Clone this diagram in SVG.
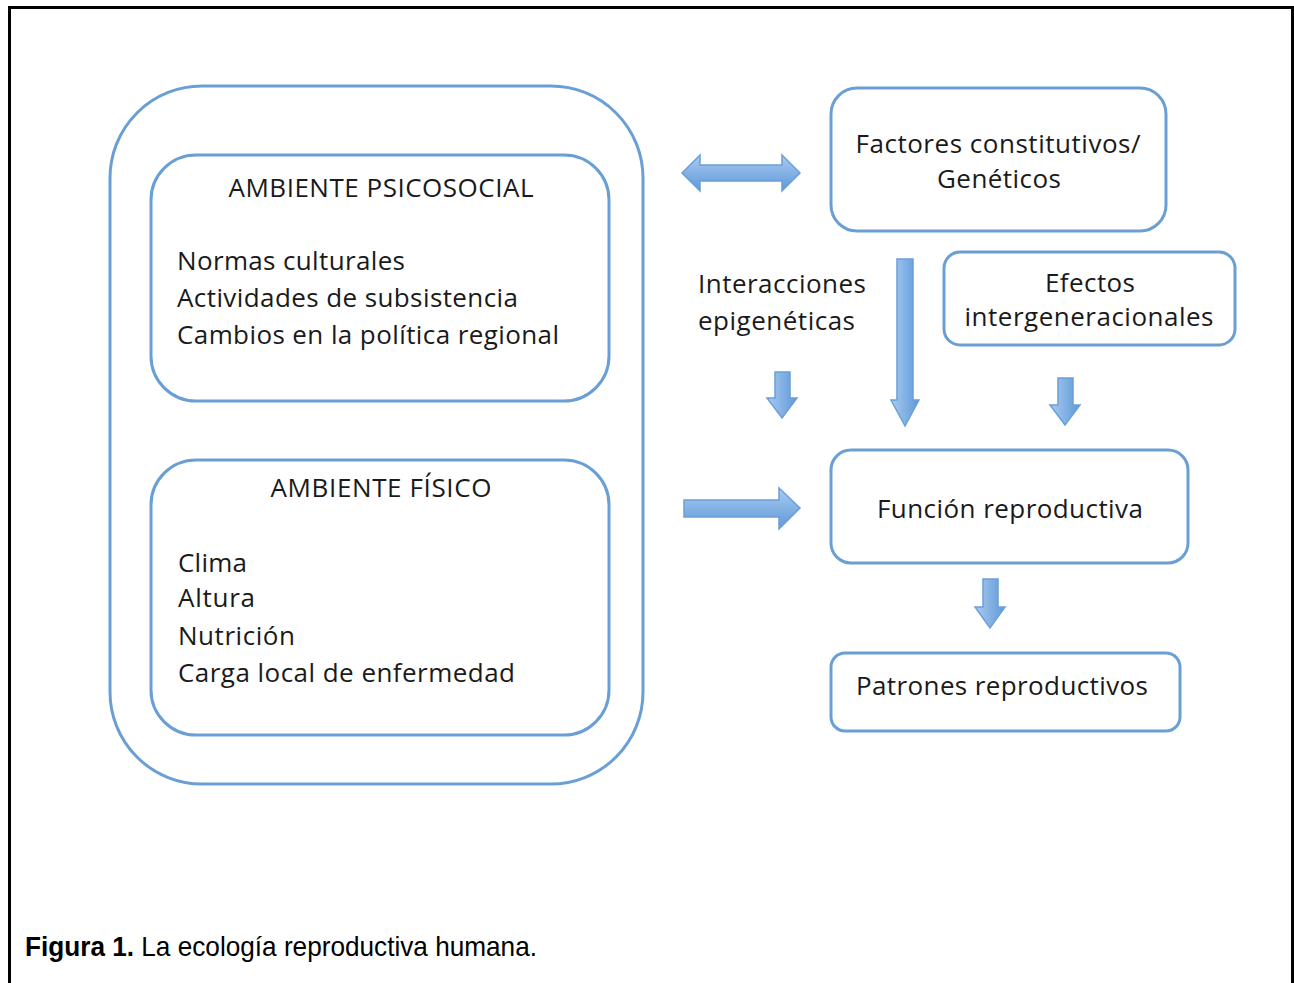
<svg xmlns="http://www.w3.org/2000/svg" width="1294" height="983" viewBox="0 0 1294 983">
<defs>
<linearGradient id="gh" x1="0" y1="0" x2="0" y2="1"><stop offset="0" stop-color="#a9cbf1"/><stop offset="1" stop-color="#5e98d8"/></linearGradient>
<linearGradient id="gd" x1="0" y1="0" x2="1" y2="0"><stop offset="0" stop-color="#a9cbf1"/><stop offset="1" stop-color="#5e98d8"/></linearGradient>
<style>
.box{fill:#fff;stroke:#6a9fd6;stroke-width:3}
.t{font-family:"Open Sans","Noto Sans",sans-serif;font-size:26px;fill:#1a1a1a}
.arr{stroke:#6b9fd8;stroke-width:1.5}
.cap{font-family:"Liberation Sans",Arial,sans-serif;font-size:28.5px;fill:#000}
</style>
</defs>
<rect width="1294" height="983" fill="#fff"/>
<path d="M9.5 990 V7.5 H1292.5 V990" fill="none" stroke="#000" stroke-width="3"/>
<g id="ambiente">
<rect class="box" x="110" y="86" width="533" height="698" rx="92"/>
</g>
<g id="psicosocial">
<rect class="box" x="151" y="155" width="458" height="246" rx="45"/>
<text class="t" x="381" y="197" text-anchor="middle" textLength="305">AMBIENTE PSICOSOCIAL</text>
<text class="t" x="177" y="270" textLength="228">Normas culturales</text>
<text class="t" x="177" y="307" textLength="341">Actividades de subsistencia</text>
<text class="t" x="177" y="344" textLength="382">Cambios en la política regional</text>
</g>
<g id="fisico">
<rect class="box" x="151" y="460" width="458" height="275" rx="45"/>
<text class="t" x="381" y="497" text-anchor="middle" textLength="221">AMBIENTE FÍSICO</text>
<text class="t" x="178" y="572" textLength="69">Clima</text>
<text class="t" x="178" y="607" textLength="77">Altura</text>
<text class="t" x="178" y="645" textLength="117">Nutrición</text>
<text class="t" x="178" y="682" textLength="337">Carga local de enfermedad</text>
</g>
<g id="factores">
<rect class="box" x="831" y="88" width="335" height="143" rx="26"/>
<text class="t" x="998" y="153" text-anchor="middle" textLength="285">Factores constitutivos/</text>
<text class="t" x="999" y="188" text-anchor="middle" textLength="124">Genéticos</text>
</g>
<g id="efectos">
<rect class="box" x="944" y="252" width="291" height="93" rx="16"/>
<text class="t" x="1090" y="292" text-anchor="middle" textLength="90">Efectos</text>
<text class="t" x="1089" y="326" text-anchor="middle" textLength="249">intergeneracionales</text>
</g>
<g id="epigeneticas">
<text class="t" x="698" y="293" textLength="168">Interacciones</text>
<text class="t" x="698" y="330" textLength="157">epigenéticas</text>
</g>
<g id="funcion">
<rect class="box" x="831" y="450" width="357" height="113" rx="20"/>
<text class="t" x="1010" y="518" text-anchor="middle" textLength="266">Función reproductiva</text>
</g>
<g id="patrones">
<rect class="box" x="831" y="653" width="349" height="78" rx="14"/>
<text class="t" x="1002" y="695" text-anchor="middle" textLength="292">Patrones reproductivos</text>
</g>
<g id="connectors">
<path class="arr" fill="url(#gh)" d="M682 173 L700 155 V165 H782 V155 L800 173 L782 191 V181 H700 V191 Z"/>
<path class="arr" fill="url(#gh)" d="M684 500 H779 V488 L800 508 L779 529 V517 H684 Z"/>
<path class="arr" fill="url(#gd)" d="M897 259 H913 V400 H919 L905 426 L891 400 H897 Z"/>
<path class="arr" fill="url(#gd)" d="M775 372 H790 V398 H797 L782 418 L767 398 H775 Z"/>
<path class="arr" fill="url(#gd)" d="M1058 378 H1073 V405 H1080 L1065 425 L1050 405 H1058 Z"/>
<path class="arr" fill="url(#gd)" d="M983 579 H998 V607 H1005 L990 628 L975 607 H983 Z"/>
</g>
<g id="caption">
<text class="cap" x="25" y="956" textLength="512" lengthAdjust="spacingAndGlyphs"><tspan font-weight="bold">Figura 1.</tspan> La ecología reproductiva humana.</text>
</g>
</svg>
